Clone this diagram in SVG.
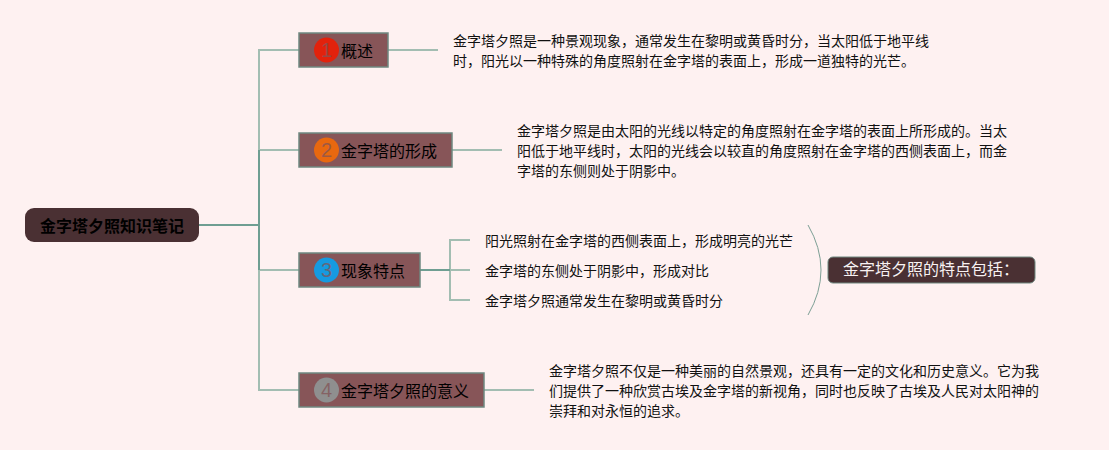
<svg xmlns="http://www.w3.org/2000/svg" width="1109" height="450" viewBox="0 0 1109 450">
<style>
text{font-family:"Noto Sans CJK SC","Liberation Sans",sans-serif}
.t{font-size:14px;fill:#111}
.h{font-size:16px;fill:#000}
.n{font-size:20px;fill:#825456;fill-opacity:.75;text-anchor:middle;font-family:"Liberation Sans",sans-serif}
.box{fill:#875558;stroke:#6f8880;stroke-width:1.5}
.l{fill:none;stroke:#a3bdb2;stroke-width:2}
.d{fill:none;stroke:#6f9e92;stroke-width:2}
</style>
<rect width="1109" height="450" fill="#fef1f1"/>
<g id="connectors">
<path class="l" d="M299 50H259V390H299M259 150H299M259 270H299"/>
<path class="d" d="M199 225H259M259 150V270"/>
<path class="l" d="M388 50H438"/>
<path class="l" d="M452 150H502M484 390H534"/>
<path class="l" d="M470 240H450V300H470M450 270H470"/>
<path class="d" d="M420 270H450"/>
<path d="M808 225Q834 270 808 315" fill="none" stroke="#7d9f95" stroke-width="1"/>
</g>
<g id="root"><rect x="25" y="208" width="174" height="34" rx="9" fill="#4a3033"/><text x="40" y="232" font-size="16" font-weight="700" fill="#000">金字塔夕照知识笔记</text></g>
<g id="node1"><rect class="box" x="299" y="33" width="89" height="34"/><circle cx="326.500" cy="50" r="12.500" fill="#e2220c"/><text class="n" x="326.500" y="57">1</text><text class="h" x="341" y="57">概述</text></g>
<g id="node2"><rect class="box" x="299" y="133" width="153" height="34"/><circle cx="326.500" cy="150" r="12.500" fill="#e8680f"/><text class="n" x="326.500" y="157">2</text><text class="h" x="341" y="157">金字塔的形成</text></g>
<g id="node3"><rect class="box" x="299" y="253" width="121" height="34"/><circle cx="326.500" cy="270" r="12.500" fill="#169ae0"/><text class="n" x="326.500" y="277">3</text><text class="h" x="341" y="277">现象特点</text></g>
<g id="node4"><rect class="box" x="299" y="373" width="185" height="34"/><circle cx="326.500" cy="390" r="12.500" fill="#8f8f8f"/><text class="n" x="326.500" y="397">4</text><text class="h" x="341" y="397">金字塔夕照的意义</text></g>
<g id="text1"><text class="t" x="453" y="46">金字塔夕照是一种景观现象，通常发生在黎明或黄昏时分，当太阳低于地平线</text><text class="t" x="453" y="66">时，阳光以一种特殊的角度照射在金字塔的表面上，形成一道独特的光芒。</text></g>
<g id="text2"><text class="t" x="517" y="136">金字塔夕照是由太阳的光线以特定的角度照射在金字塔的表面上所形成的。当太</text><text class="t" x="517" y="156">阳低于地平线时，太阳的光线会以较直的角度照射在金字塔的西侧表面上，而金</text><text class="t" x="517" y="176">字塔的东侧则处于阴影中。</text></g>
<g id="item1"><text class="t" x="485" y="246">阳光照射在金字塔的西侧表面上，形成明亮的光芒</text></g>
<g id="item2"><text class="t" x="485" y="276">金字塔的东侧处于阴影中，形成对比</text></g>
<g id="item3"><text class="t" x="485" y="306">金字塔夕照通常发生在黎明或黄昏时分</text></g>
<g id="summary"><rect x="828" y="257" width="207" height="26" rx="5" fill="#4a3033" stroke="#6f8880"/><text x="843" y="275" font-size="16" fill="#f8f2f2">金字塔夕照的特点包括：</text></g>
<g id="text4"><text class="t" x="549" y="376">金字塔夕照不仅是一种美丽的自然景观，还具有一定的文化和历史意义。它为我</text><text class="t" x="549" y="396">们提供了一种欣赏古埃及金字塔的新视角，同时也反映了古埃及人民对太阳神的</text><text class="t" x="549" y="416">崇拜和对永恒的追求。</text></g>
</svg>
